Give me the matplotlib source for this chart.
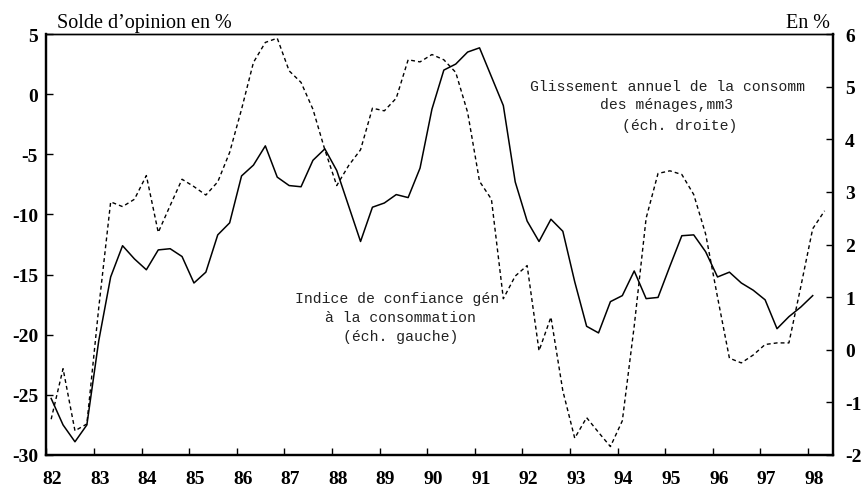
import matplotlib
matplotlib.use("Agg")
import matplotlib.pyplot as plt
import matplotlib.transforms as mtransforms
import numpy as np

# quarterly dates (82.1 = 1st quarter 1982)
dates_conf = [82.1 + 0.25 * i for i in range(65)]
dates_cons = [82.1 + 0.25 * i for i in range(66)]

# Indice de confiance (left scale)
confiance = [
    -25.3, -27.5, -28.9, -27.5, -20.5, -15.2, -12.6, -13.7,
    -14.6, -12.95, -12.85, -13.5, -15.7, -14.8, -11.7, -10.7,
    -6.8, -5.9, -4.3, -6.9, -7.6, -7.7, -5.5, -4.55,
    -6.35, -9.3, -12.25, -9.4, -9.05, -8.35, -8.6, -6.15,
    -1.25, 2.0, 2.5, 3.5, 3.85, 1.45, -0.95, -7.3,
    -10.55, -12.25, -10.4, -11.4, -15.6, -19.3, -19.85, -17.25,
    -16.75, -14.7, -17.0, -16.9, -14.3, -11.77, -11.7, -13.1,
    -15.2, -14.8, -15.7, -16.3, -17.1, -19.5, -18.5, -17.7,
    -16.75,
]

# Glissement annuel de la consommation, mm3 (right scale)
consommation = [
    -1.32, -0.36, -1.54, -1.41, 0.8, 2.81, 2.72, 2.86,
    3.31, 2.23, 2.74, 3.24, 3.1, 2.94, 3.19, 3.75,
    4.57, 5.46, 5.84, 5.92, 5.3, 5.08, 4.57, 3.8,
    3.12, 3.5, 3.8, 4.59, 4.54, 4.78, 5.51, 5.47,
    5.61, 5.51, 5.27, 4.51, 3.2, 2.86, 0.97, 1.4,
    1.6, -0.02, 0.62, -0.78, -1.68, -1.29, -1.57, -1.84,
    -1.35, 0.45, 2.5, 3.35, 3.4, 3.33, 2.95, 2.2,
    1.0, -0.16, -0.25, -0.1, 0.1, 0.13, 0.13, 1.2,
    2.3, 2.64,
]

years = list(range(82, 99))
left_ticks = [-30, -25, -20, -15, -10, -5, 0, 5]
right_ticks = [-2, -1, 0, 1, 2, 3, 4, 5, 6]

W, H = 863, 489
fig = plt.figure(figsize=(W / 100, H / 100), dpi=100)
ax = fig.add_axes([46.4 / W, 1 - 456 / H, (832.7 - 46.4) / W, (456 - 35) / H])
ax2 = ax.twinx()

ax.plot(dates_conf, confiance, color="black", lw=1.1)
ax2.plot(dates_cons, consommation, color="black", lw=1.0, dashes=(2.8, 2.2))

ax.set_xlim(82, 98.52)
ax.set_ylim(-30, 5)
ax2.set_ylim(-2, 6)

tick_font = dict(family="Liberation Serif", weight="bold", size=14)
ax.set_xticks(years)
ax.set_xticklabels([str(y) for y in years], **tick_font)
ax.set_yticks(left_ticks)
ax.set_yticklabels([str(v) for v in left_ticks], **tick_font)
ax2.set_yticks(right_ticks)
ax2.set_yticklabels([str(v) for v in right_ticks], **tick_font)

ax.tick_params(axis="x", direction="in", length=5, width=1, pad=11)
ax.tick_params(axis="y", direction="in", length=5, width=1, pad=6)
ax2.tick_params(axis="y", direction="in", length=5, width=1, pad=9)

# shift year labels slightly to the right of their ticks
offset = mtransforms.ScaledTranslation(6 / 100, 0, fig.dpi_scale_trans)
for lab in ax.get_xticklabels():
    lab.set_transform(lab.get_transform() + offset)

for a in (ax, ax2):
    for side in ("left", "right", "bottom"):
        a.spines[side].set_linewidth(1.6)
    a.spines["top"].set_linewidth(1.0)

fig.text(56.7 / W, 1 - 28 / H, "Solde d\u2019opinion en %", family="Liberation Serif",
         size=14.5, ha="left", va="baseline")
fig.text(829.5 / W, 1 - 28 / H, "En %", family="Liberation Serif",
         size=14.5, ha="right", va="baseline")

mono = dict(family="Liberation Mono", size=10.6, va="center", ha="left", color="#222222")
fig.text(530 / W, 1 - 87 / H, "Glissement annuel de la consomm", **mono)
fig.text(600 / W, 1 - 105 / H, "des ménages,mm3", **mono)
fig.text(621.7 / W, 1 - 126 / H, "(éch. droite)", **mono)

fig.text(295 / W, 1 - 299.3 / H, "Indice de confiance gén", **mono)
fig.text(325 / W, 1 - 318.3 / H, "à la consommation", **mono)
fig.text(343.3 / W, 1 - 336.7 / H, "(éch. gauche)", **mono)

fig.savefig("out.png", dpi=100)
